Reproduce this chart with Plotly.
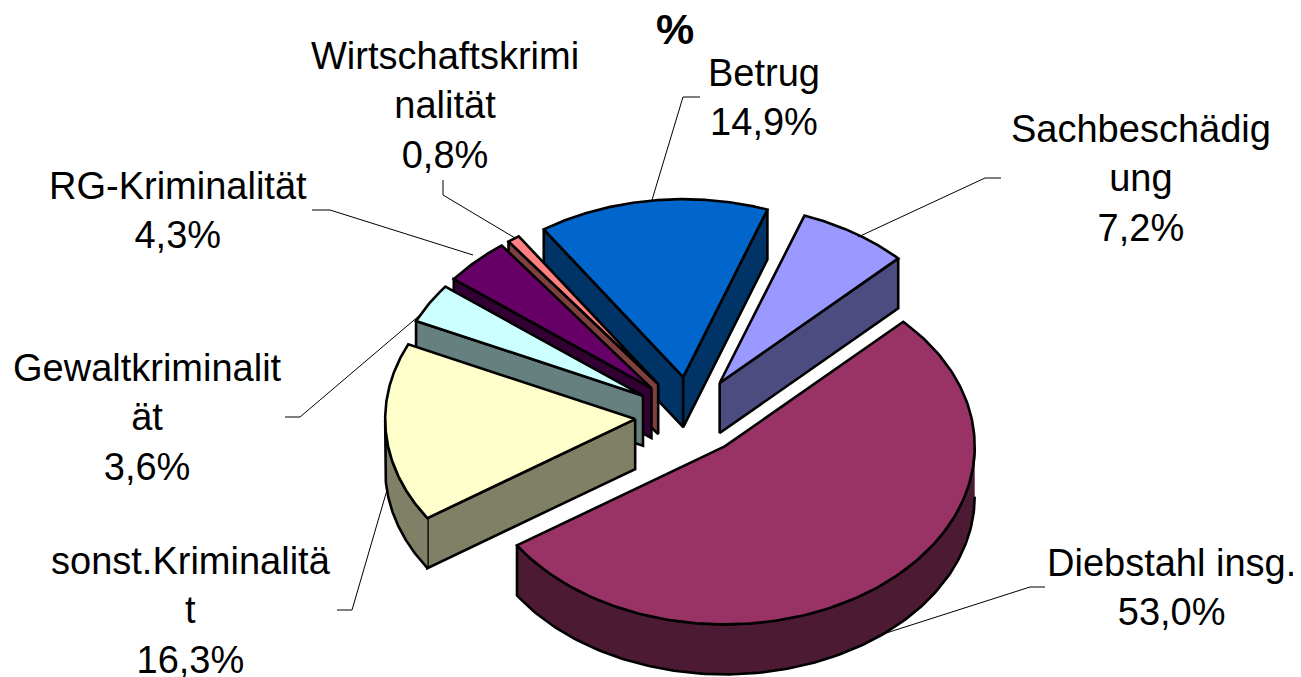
import numpy as np
import plotly.graph_objects as go

# Data, clockwise from the first slice
categories = ["Betrug", "Sachbeschädigung", "Diebstahl insg.", "sonst.Kriminalität",
              "Gewaltkriminalität", "RG-Kriminalität", "Wirtschaftskriminalität"]
values = [14.9, 7.2, 53.0, 16.3, 3.6, 4.3, 0.8]
label_lines = [["Betrug", "14,9%"], ["Sachbeschädig", "ung", "7,2%"], ["Diebstahl insg.", "53,0%"],
               ["sonst.Kriminalitä", "t", "16,3%"], ["Gewaltkriminalit", "ät", "3,6%"],
               ["RG-Kriminalität", "4,3%"], ["Wirtschaftskrimi", "nalität", "0,8%"]]
top_colors = ["#0066CC", "#9999FF", "#993366", "#FFFFCC", "#CCFFFF", "#660066", "#FF8080"]
side_colors = ["#003366", "#4C4C80", "#4D1A33", "#808066", "#668080", "#330033", "#804040"]

# Projection of the 3D pie
CX, CY, R, TILT, DEPTH, PULL, START = 690, 416, 250, 0.712, 50, 55, 326.1
FONT = "Liberation Sans, Arial, sans-serif"
FS = 38

label_pos = [(764, 97), (1141, 178), (1171, 587), (191, 610), (147, 417), (178, 210), (445, 105)]
leaders = [[(652, 200), (683, 97), (700, 97)],
           [(858, 237), (985, 178), (1001, 178)],
           [(880, 635), (1030, 587), (1045, 587)],
           [(387, 490), (352, 610), (337, 610)],
           [(420, 315), (300, 417), (285, 417)],
           [(473, 255), (330, 210), (312, 210)],
           [(515, 238), (443, 195), (443, 180)]]

fig = go.Figure()
total = sum(values)
spans = [v / total * 360 for v in values]
starts = START + np.concatenate([[0], np.cumsum(spans)[:-1]])


def poly(xs, ys, color, name):
    fig.add_trace(go.Scatter(x=xs, y=ys, mode="lines", fill="toself", fillcolor=color,
                             line=dict(color="black", width=2.6), name=name,
                             hoverinfo="name", showlegend=False))


order = sorted(range(len(values)), key=lambda i: -np.cos(np.radians(starts[i] + spans[i] / 2)))
for i in order:
    a0 = starts[i]
    a1 = a0 + spans[i]
    mid = np.radians((a0 + a1) / 2)
    ox = CX + PULL * np.sin(mid)
    oy = CY - PULL * TILT * np.cos(mid)
    px = lambda a: ox + R * np.sin(np.radians(a))
    py = lambda a: oy - R * TILT * np.cos(np.radians(a))
    # cut walls
    if np.sin(np.radians(a0)) < 0:
        poly([ox, px(a0), px(a0), ox, ox], [oy, py(a0), py(a0) + DEPTH, oy + DEPTH, oy],
             side_colors[i], categories[i])
    if np.sin(np.radians(a1)) > 0:
        poly([ox, px(a1), px(a1), ox, ox], [oy, py(a1), py(a1) + DEPTH, oy + DEPTH, oy],
             side_colors[i], categories[i])
    # outer rim (only the part facing the viewer)
    arc = np.linspace(a0, a1, 181)
    vis = arc[np.cos(np.radians(arc)) <= 0]
    if len(vis) > 1:
        poly(list(px(vis)) + list(px(vis[::-1])),
             list(py(vis)) + list(py(vis[::-1]) + DEPTH),
             side_colors[i], categories[i])
    # top face
    poly([ox] + list(px(arc)) + [ox], [oy] + list(py(arc)) + [oy], top_colors[i], categories[i])

for pts in leaders:
    fig.add_trace(go.Scatter(x=[p[0] for p in pts], y=[p[1] for p in pts], mode="lines",
                             line=dict(color="black", width=1), hoverinfo="skip", showlegend=False))

for lines, (x, y) in zip(label_lines, label_pos):
    fig.add_annotation(x=x, y=y, xref="x", yref="y", text="<br>".join(lines), showarrow=False,
                       align="center", xanchor="center", yanchor="middle",
                       font=dict(family=FONT, size=FS, color="black"))
fig.add_annotation(x=675, y=29, xref="x", yref="y", text="<b>%</b>", showarrow=False,
                   font=dict(family=FONT, size=43, color="black"))

# The page adds an 8 px body margin, so the plot area covers page pixels 8..1301 and 8..677
fig.update_layout(width=1293, height=669, margin=dict(l=0, r=0, t=0, b=0),
                  paper_bgcolor="white", plot_bgcolor="white", showlegend=False,
                  xaxis=dict(range=[8, 1301], visible=False, fixedrange=True),
                  yaxis=dict(range=[677, 8], visible=False, fixedrange=True))
fig.write_html("out.html", config={"displayModeBar": False})
